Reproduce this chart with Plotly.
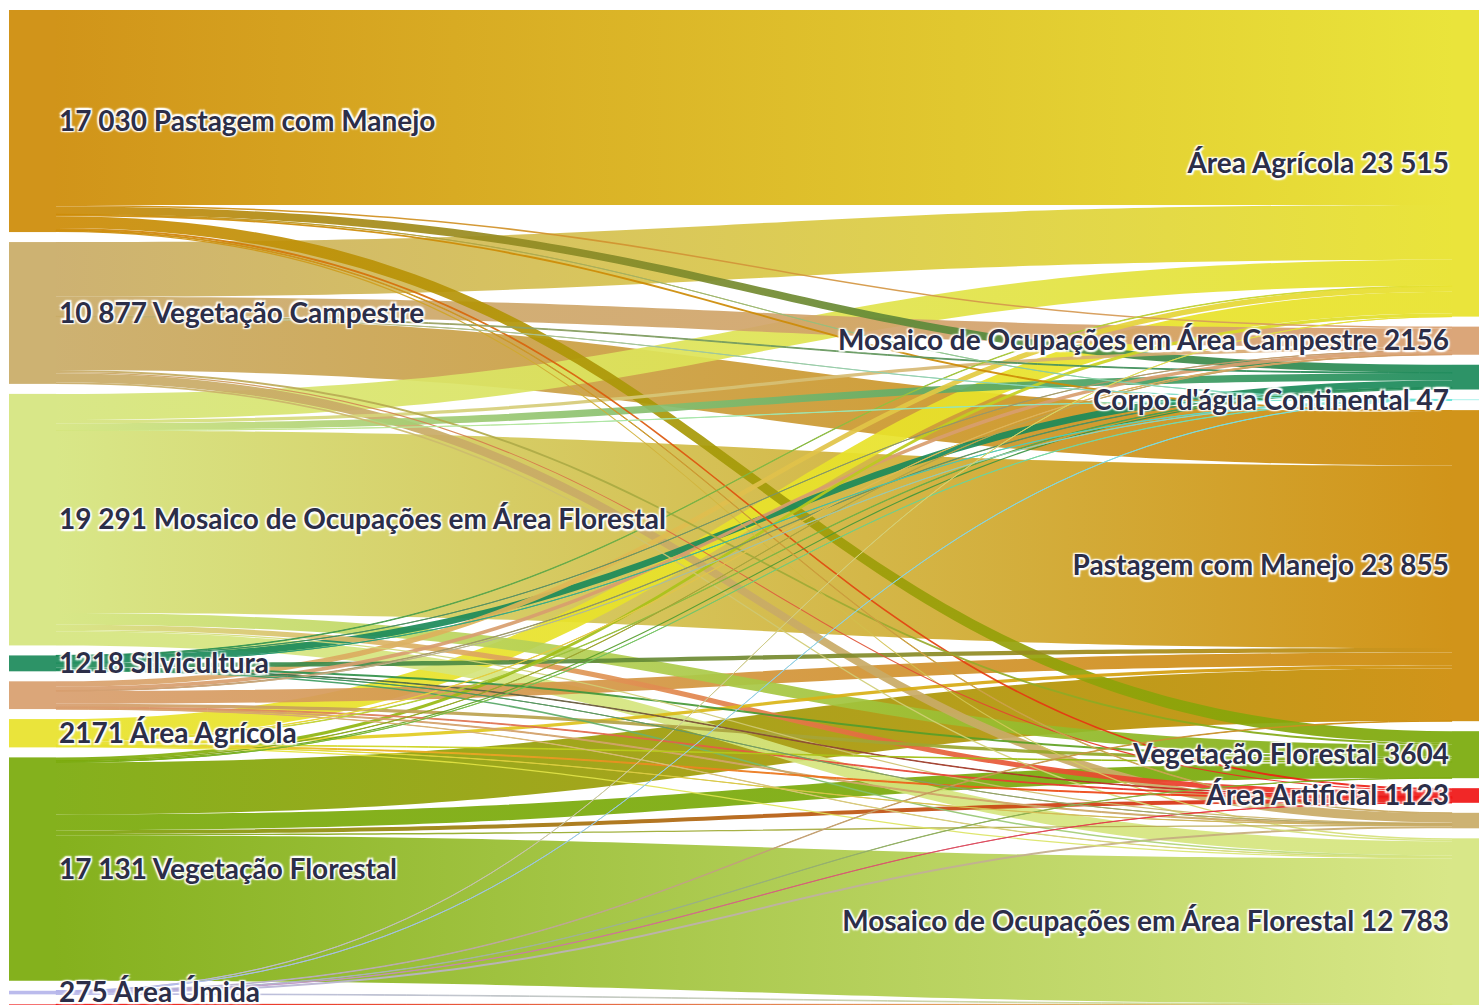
import json
import plotly.graph_objects as go

# Land-cover classes at the start (left column) and at the end (right column)
origem = [
    "Pastagem com Manejo",
    "Vegetação Campestre",
    "Mosaico de Ocupações em Área Florestal",
    "Silvicultura",
    "Mosaico de Ocupações em Área Campestre",
    "Área Agrícola",
    "Vegetação Florestal",
    "Área Úmida",
    "Área Artificial",
]
destino = [
    "Área Agrícola",
    "Mosaico de Ocupações em Área Campestre",
    "Silvicultura",
    "Corpo d'água Continental",
    "Pastagem com Manejo",
    "Vegetação Florestal",
    "Área Artificial",
    "Vegetação Campestre",
    "Mosaico de Ocupações em Área Florestal",
]

# Area converted from each origin class into the destination classes (same order as `destino`)
de_pastagem = [14950, 120, 600, 5, 150, 900, 150, 50, 105]
de_veg_campestre = [4200, 1450, 60, 7, 4100, 150, 90, 700, 120]
de_mosaico_florestal = [2000, 250, 550, 10, 14000, 900, 400, 100, 1081]
de_silvicultura = [40, 10, 520, 5, 330, 150, 40, 3, 120]
de_mosaico_campestre = [420, 286, 30, 5, 985, 244, 62, 75, 22]
de_agricola = [1650, 20, 40, 0, 250, 40, 71, 10, 90]
de_veg_florestal = [250, 20, 100, 10, 4000, 1200, 300, 101, 11150]
de_umida = [5, 0, 0, 5, 40, 20, 10, 150, 45]
de_artificial = [0, 0, 0, 0, 0, 0, 0, 0, 50]

fluxos = [
    de_pastagem, de_veg_campestre, de_mosaico_florestal, de_silvicultura,
    de_mosaico_campestre, de_agricola, de_veg_florestal, de_umida, de_artificial,
]

# Classes whose labels are left out (too thin to label)
sem_rotulo_origem = {"Mosaico de Ocupações em Área Campestre", "Área Artificial"}
sem_rotulo_destino = {"Silvicultura", "Vegetação Campestre"}

cores = {
    "Pastagem com Manejo": "#CD8B06",
    "Vegetação Campestre": "#C9AB66",
    "Mosaico de Ocupações em Área Florestal": "#D5E57E",
    "Silvicultura": "#1B8A5A",
    "Mosaico de Ocupações em Área Campestre": "#D89E6E",
    "Área Agrícola": "#E8E22A",
    "Vegetação Florestal": "#7AAA0A",
    "Área Úmida": "#B5B5EA",
    "Área Artificial": "#F01515",
    "Corpo d'água Continental": "#6EE6DC",
}

ALPHA = 0.92


def fmt(v):
    v = int(round(v))
    return f"{v:,}".replace(",", " ") if v >= 10000 else str(v)


def rgba(hex_color, a):
    h = hex_color.lstrip("#")
    r, g, b = int(h[0:2], 16), int(h[2:4], 16), int(h[4:6], 16)
    return f"rgba({r},{g},{b},{a})"


W, H = 1479, 1005
TOP = 10
PAD = 10
THICK = 47

tot_origem = [sum(r) for r in fluxos]
tot_destino = [sum(r[j] for r in fluxos) for j in range(len(destino))]
total = sum(tot_origem)
plot_h = H - TOP
ky = (plot_h - (len(origem) - 1) * PAD) / total


def centres(totals):
    out, y = [], 0.0
    for t in totals:
        h = t * ky
        out.append((y + h / 2) / plot_h)
        y += h + PAD
    return out


yo = centres(tot_origem)
yd = centres(tot_destino)
x_left = (9 + THICK / 2) / W
x_right = (1452 + THICK / 2) / W

labels, colors, xs, ys = [], [], [], []
for i, n in enumerate(origem):
    labels.append("" if n in sem_rotulo_origem else f"{fmt(tot_origem[i])} {n}")
    colors.append(cores[n])
    xs.append(x_left)
    ys.append(yo[i])
for j, n in enumerate(destino):
    labels.append("" if n in sem_rotulo_destino else f"{n} {fmt(tot_destino[j])}")
    colors.append(cores[n])
    xs.append(x_right)
    ys.append(yd[j])

# Links: wide bands first so that thin ones stay visible on top
links = []
for i, row in enumerate(fluxos):
    for j, v in enumerate(row):
        if v > 0:
            links.append((i, len(origem) + j, v))
links.sort(key=lambda t: -t[2])

src = [l[0] for l in links]
tgt = [l[1] for l in links]
val = [l[2] for l in links]
pairs = [[colors[s], colors[t]] for s, t in zip(src, tgt)]

fig = go.Figure(go.Sankey(
    arrangement="fixed",
    hoverinfo="none",
    node=dict(
        label=labels,
        color=[rgba(c, ALPHA) for c in colors],
        x=xs,
        y=ys,
        pad=PAD,
        thickness=THICK,
        line=dict(width=0),
    ),
    link=dict(
        source=src,
        target=tgt,
        value=val,
        color=[rgba(colors[s], ALPHA) for s in src],
        line=dict(width=0),
    ),
    textfont=dict(
        family="Lato",
        size=28,
        color="#2c2e48",
        weight="bold",
        shadow="1.5px 1.5px 1.5px #fff, -1.5px -1.5px 1.5px #fff, 1.5px -1.5px 1.5px #fff, -1.5px 1.5px 1.5px #fff",
    ),
    domain=dict(x=[0, 1], y=[0, 1]),
))

fig.update_layout(
    width=W,
    height=H,
    margin=dict(l=0, r=0, t=TOP, b=0),
    paper_bgcolor="white",
    plot_bgcolor="white",
)

# Colour each band with a left-to-right gradient from its origin to its destination class
gradient_js = """
var gd = document.getElementById('{plot_id}');
var pairs = %s;
function paintLinks() {
  var svg = gd.querySelector('svg.main-svg');
  if (!svg) return;
  var ns = 'http://www.w3.org/2000/svg';
  var defs = svg.querySelector('defs');
  if (!defs) { defs = document.createElementNS(ns, 'defs'); svg.insertBefore(defs, svg.firstChild); }
  var paths = gd.querySelectorAll('path.sankey-link');
  paths.forEach(function (p, k) {
    var d = p.__data__;
    var i = (d && d.link && d.link.pointNumber !== undefined) ? d.link.pointNumber : k;
    if (!pairs[i]) return;
    var id = 'lkgrad' + i;
    var g = svg.querySelector('#' + id);
    if (!g) {
      g = document.createElementNS(ns, 'linearGradient');
      g.setAttribute('id', id);
      g.setAttribute('x1', '0'); g.setAttribute('y1', '0');
      g.setAttribute('x2', '1'); g.setAttribute('y2', '0');
      var s0 = document.createElementNS(ns, 'stop');
      s0.setAttribute('offset', '0'); s0.setAttribute('stop-color', pairs[i][0]);
      var s1 = document.createElementNS(ns, 'stop');
      s1.setAttribute('offset', '1'); s1.setAttribute('stop-color', pairs[i][1]);
      g.appendChild(s0); g.appendChild(s1);
      defs.appendChild(g);
    }
    p.style.fill = 'url(#' + id + ')';
    p.style.stroke = 'url(#' + id + ')';
  });
}
paintLinks();
gd.on('plotly_afterplot', paintLinks);
""" % json.dumps(pairs)

fig.write_html("out.html", post_script=gradient_js)
